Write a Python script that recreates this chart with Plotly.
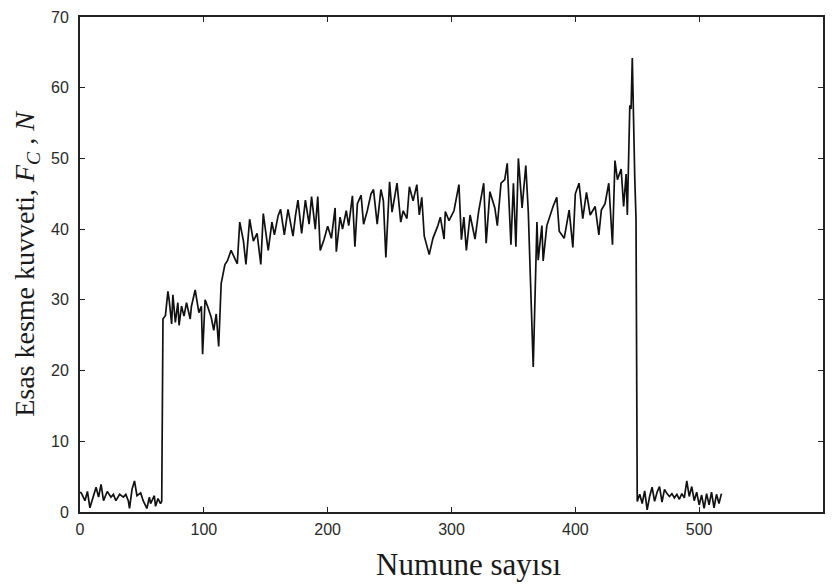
import plotly.graph_objects as go

# Sample number and main cutting force readings (N)
sample_no = [
    0, 1, 4, 6, 8, 11, 13, 15, 17, 19, 22, 25, 27, 29, 32, 35, 37, 39, 40, 42,
    44, 46, 49, 51, 54, 56, 57, 60, 61, 63, 65, 66,
    67, 69, 71, 72, 74, 75, 77, 79, 80, 82, 84, 86, 89, 90, 93, 96, 98, 99,
    101, 103, 106, 108, 110, 112, 114, 117,
    119, 122, 124, 127, 129, 132, 134, 137, 140, 143, 146, 148, 152, 155, 157,
    160, 162, 165, 168, 172, 174, 176, 179, 182, 185, 187, 190, 192, 194, 197,
    200, 203, 206, 207, 210, 212, 215, 217, 220, 222, 224, 227, 229, 232, 235,
    237, 240, 243, 245, 247, 250,
    252, 256, 259, 261, 264, 266, 269, 272, 274, 276, 278, 282, 285, 289, 291,
    294, 295, 298, 302, 306, 308, 310, 312, 315, 319, 322, 326, 328, 331, 335,
    337, 340, 343, 345, 348, 350, 352, 354, 357, 360, 362, 366, 369, 370, 373,
    374, 377,
    382, 385, 387, 391, 395, 398, 400, 403, 406, 409, 412, 416, 419, 421, 424,
    427, 430, 432, 434, 437, 439, 441, 442, 444, 445, 446, 448, 449,
    450, 452, 454, 456, 458, 460, 462, 464, 466, 468, 470, 472, 474, 476, 478,
    480, 482, 484, 486, 488, 490, 492, 494, 496, 498, 500, 502, 504, 506, 508,
    510, 512, 514, 516, 518,
]
cutting_force = [
    2.8, 2.7, 1.6, 2.9, 0.6, 2.5, 3.5, 2.1, 3.9, 1.6, 2.9, 2.1, 2.5, 1.6, 2.5,
    2.1, 2.5, 1.6, 0.5, 3.2, 4.4, 2.3, 2.7, 1.6, 0.5, 2.1, 1.2, 2.3, 0.8, 1.9,
    1.2, 1.5,
    27.3, 27.8, 31.2, 30.0, 26.6, 30.7, 26.8, 29.6, 26.4, 29.1, 27.7, 29.6,
    27.3, 29.1, 31.4, 28.2, 29.1, 22.3, 30.0, 29.1, 27.5, 25.7, 28.0, 23.4,
    32.3, 35.0,
    35.5, 37.0, 36.2, 35.1, 41.0, 38.3, 35.0, 41.4, 38.3, 39.4, 35.0, 42.2,
    37.0, 41.0, 39.2, 41.9, 42.8, 39.2, 42.8, 39.0, 41.9, 44.1, 39.4, 44.1,
    40.7, 44.6, 40.0, 44.6, 37.0, 38.5, 40.4, 38.7, 43.0, 36.8, 41.7, 40.0,
    42.6, 40.5, 44.7, 37.5, 43.6, 44.8, 40.7, 42.6, 45.0, 45.6, 40.7, 45.6,
    44.0, 36.0, 46.7,
    42.4, 46.5, 41.0, 42.6, 41.5, 46.0, 44.0, 46.3, 42.0, 44.5, 39.0, 36.4,
    38.7, 40.5, 41.7, 38.6, 42.5, 41.2, 42.6, 46.3, 38.5, 41.7, 37.0, 42.0,
    38.6, 42.6, 46.5, 38.0, 45.3, 43.0, 40.5, 46.5, 47.0, 49.3, 37.8, 46.5,
    37.5, 50.0, 43.0, 49.0, 42.5, 20.5, 41.0, 35.6, 40.5, 35.5, 40.5,
    43.2, 44.5, 39.7, 38.7, 42.7, 37.4, 45.0, 46.5, 41.5, 45.2, 42.0, 43.2,
    39.2, 42.7, 43.6, 46.5, 37.8, 49.7, 47.0, 48.5, 43.2, 47.8, 42.0, 57.5,
    57.0, 64.2, 47.2, 41.5,
    1.5, 2.5, 1.2, 3.0, 0.3, 2.2, 3.5, 1.5, 2.8, 3.6, 1.4, 3.2, 2.6, 2.2, 2.6,
    2.0, 2.5, 1.8, 2.6, 2.0, 4.4, 2.2, 3.6, 1.6, 2.8, 1.0, 2.4, 0.5, 2.6, 1.0,
    2.8, 0.6, 2.5, 1.2, 2.6,
]

x_ticks = [0, 100, 200, 300, 400, 500, 600]
y_ticks = [0, 10, 20, 30, 40, 50, 60, 70]

fig = go.Figure()
fig.add_trace(go.Scatter(
    x=sample_no, y=cutting_force, mode="lines",
    line=dict(color="#111111", width=1.7),
    showlegend=False,
))

tick_font = dict(family="Liberation Sans, Arial, sans-serif", size=16, color="#2a2a2a")
title_font = dict(family="Liberation Serif, Times New Roman, serif", size=30, color="#1a1a1a")

fig.update_layout(
    width=834, height=584,
    margin=dict(l=80, r=9, t=13, b=72),
    paper_bgcolor="white", plot_bgcolor="white",
    xaxis=dict(
        range=[0, 600], tickvals=x_ticks, ticks="inside", ticklen=5,
        tickwidth=1.3, tickcolor="#222", showline=True, linecolor="#222",
        linewidth=1.8, mirror="allticks", showgrid=False, zeroline=False,
        tickfont=tick_font, ticklabelstandoff=2,
    ),
    yaxis=dict(
        range=[0, 70], tickvals=y_ticks, ticks="inside", ticklen=5,
        tickwidth=1.3, tickcolor="#222", showline=True, linecolor="#222",
        linewidth=1.8, mirror="allticks", showgrid=False, zeroline=False,
        tickfont=tick_font, ticklabelstandoff=6,
        title=dict(
            text="Esas kesme kuvveti, <i>F</i><sub><i>C</i></sub><i> , N</i>",
            font=dict(title_font, size=28), standoff=8,
        ),
    ),
    annotations=[dict(
        text="Numune sayısı", xref="paper", yref="paper",
        x=0.523, y=-0.106, xanchor="center", yanchor="middle",
        showarrow=False, font=dict(title_font, size=31),
    )],
)

fig.write_html("out.html")
